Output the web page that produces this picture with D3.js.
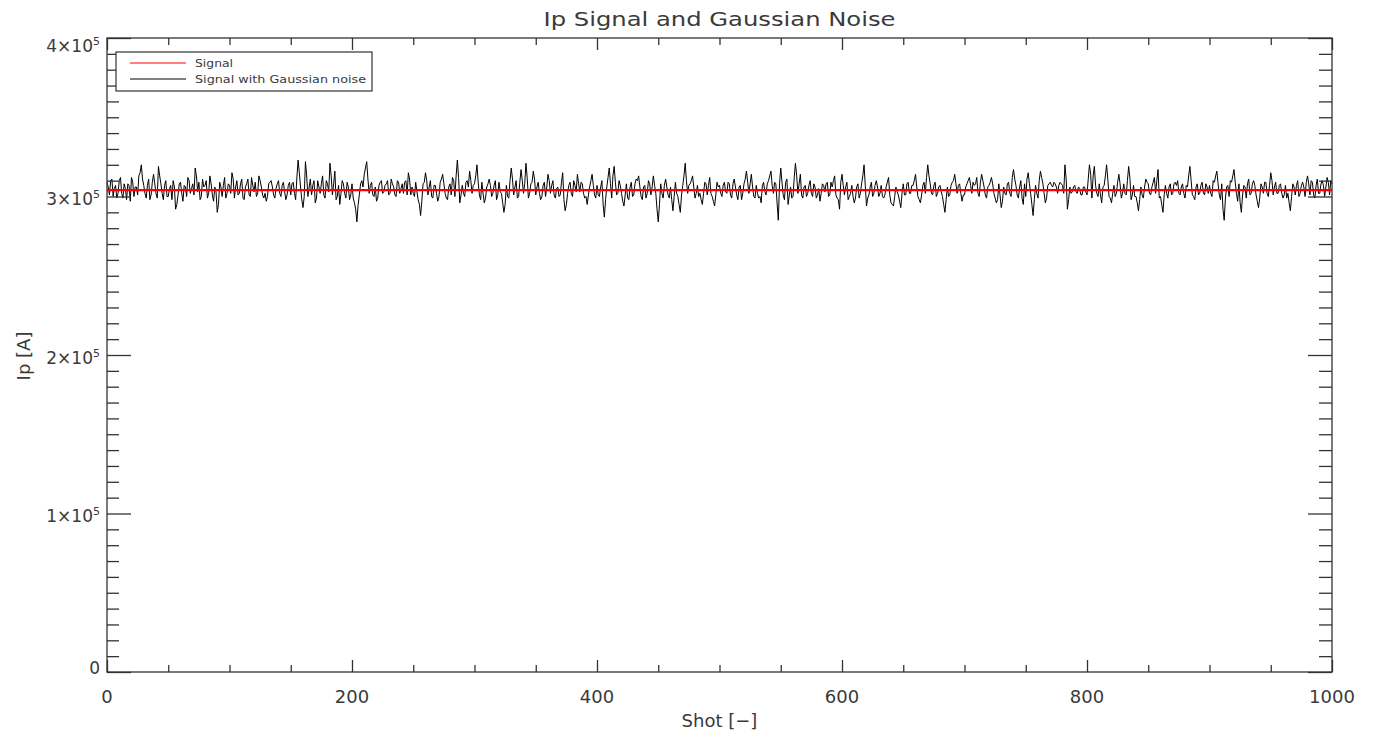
<!DOCTYPE html>
<html><head><meta charset="utf-8">
<script src="https://cdn.jsdelivr.net/npm/d3@7"></script>
<style>body{margin:0;background:#fff}text{font-family:"DejaVu Sans",sans-serif;fill:#3a3a3a}</style>
</head><body><svg id="c" width="1376" height="736"></svg>
<script>
// ---- data ----
const title = "Ip Signal and Gaussian Noise";
const xLabel = "Shot [\u2212]";
const yLabel = "Ip [A]";
const legendLabels = ["Signal", "Signal with Gaussian noise"];
const signalKA = 304;            // constant Ip signal, kA
// noise (kA) at even shots 0,2,...,1000
const noiseEvenKA = [
 5,-3,7,1,-5,6,-2,4,-6,3,8,-4,2,9,16,3,-5,7,-3,10,-2,15,4,-6,6,
 -4,3,6,-12,-3,5,-7,2,8,-2,4,14,-1,-6,7,3,-5,9,-3,2,-14,5,-4,8,-2,
 3,11,-5,6,-2,7,-6,4,-3,8,-1,-4,9,2,-5,-7,4,6,-3,1,6,-4,5,-6,3,
 -3,5,-6,19,2,-11,18,-4,7,3,-8,6,-2,9,-5,4,17,-3,12,-4,-9,6,-2,5,-6,
 4,-8,-20,-3,6,10,18,-2,5,-4,-7,3,6,-1,4,-3,7,2,-4,5,1,-2,6,11,-3,
 -2,5,-6,-16,4,11,-3,6,-5,3,-7,5,10,-2,-6,4,8,-4,19,-8,3,-4,6,12,-2,
 4,16,-3,5,-8,2,7,-4,3,-6,5,-2,-14,3,-5,14,-3,6,-4,13,-2,17,-5,4,12,
 -3,5,-6,3,-4,10,-2,6,-5,2,-3,11,-13,-2,5,-4,3,10,-1,4,-5,-9,2,10,-3,
 3,-4,6,-17,2,14,-5,15,-3,6,-2,-10,4,-6,5,-3,7,9,-4,2,-5,6,-3,9,-2,
 -20,4,-5,7,-3,2,-13,5,-4,-14,3,17,-2,4,9,-5,3,-2,-9,5,-3,8,-4,-10,5,
 3,-4,5,-2,4,-5,7,-3,2,-6,4,12,-2,10,-4,3,-5,-8,5,-3,6,12,-2,4,-19,
 14,-3,5,-9,2,-4,17,-2,10,-5,3,-2,6,-4,2,-3,-7,4,-1,5,-3,2,9,-5,-12,
 10,-3,5,-4,3,-8,2,-5,4,16,-10,-3,5,-2,6,-4,3,-5,2,8,-8,-10,2,-3,-11,
 4,-3,5,-2,3,10,-4,-8,3,-2,16,4,-3,5,-2,3,-4,-14,2,-3,5,10,-2,4,-7,
 -3,4,8,-2,3,8,-4,10,2,-5,3,8,-2,-8,4,-11,2,-3,5,-4,13,3,-5,6,-9,
 -4,11,-2,-16,3,-5,12,4,-8,3,5,2,4,-2,5,3,16,-12,2,-1,3,-2,1,-3,2,
 -3,16,-5,15,-2,4,-8,3,16,-4,-8,3,-2,10,-5,4,-3,15,-6,3,-4,-13,2,-5,7,
 4,-3,5,-2,13,-4,-14,3,-5,4,-2,5,6,-3,4,-5,2,15,-3,-6,4,-2,5,-3,2,
 3,-4,5,12,-3,4,-19,2,-4,5,13,-2,4,-14,3,-5,7,-2,6,-3,-11,4,-2,5,-4,
 11,-3,5,-2,4,-5,3,-2,-13,4,-3,6,-2,5,-4,9,-3,5,-5,7,-2,6,-4,8,-3,4
];
// noise (kA) at odd shots 1,3,...,999
const noiseOddKA = [
 2,6,-4,3,-2,8,-5,1,4,-7,5,2,-3,11,7,-2,3,-6,5,4,-5,9,-2,3,-4,
 1,-6,2,-9,4,-2,3,-4,6,1,-3,9,5,-4,2,6,-2,4,-7,-1,-9,2,3,-5,4,
 -2,7,2,-3,4,-5,2,7,-4,3,5,-2,6,-3,-2,-4,5,2,-5,4,-2,3,-1,-3,5,
 4,-2,8,11,-6,-4,9,2,-3,6,-5,2,4,-3,6,-1,9,4,-6,3,-2,4,-5,2,-3,
 -5,-12,-9,4,2,14,7,3,-3,2,-5,5,-2,3,6,-2,4,-3,6,-2,4,5,-3,7,2,
 -4,-1,-9,-7,5,6,2,-4,3,-2,-4,7,4,-5,2,-3,6,9,8,-3,-2,5,2,6,3,
 9,5,-6,-2,-5,4,3,-2,6,-3,-1,-8,-9,-4,6,7,2,-5,5,6,4,8,-2,5,7,
 2,-2,-4,5,2,6,3,-3,1,-4,5,-6,-9,3,-2,6,-1,4,5,-2,-4,-3,6,3,-5,
 -3,2,-9,-6,8,4,9,5,-2,3,-7,-3,-5,2,-4,4,6,2,-6,3,-2,4,2,3,-12,
 -9,-2,3,2,-5,-6,-4,-2,-9,-3,9,6,3,6,2,-2,-4,-6,-2,4,3,-2,-7,-3,2,
 -2,3,-1,5,-3,4,2,-6,3,-2,7,5,4,2,-5,-2,-4,3,-1,4,9,3,5,-8,4,
 5,-6,7,-3,-5,8,9,4,-3,2,-4,3,-2,4,-5,1,-2,3,4,-4,5,6,-3,-6,5,
 3,2,-6,-2,-4,-5,4,-2,9,3,-5,2,-4,3,2,-2,-4,-3,5,-3,-9,-4,-1,-7,-2,
 -3,4,-2,3,6,2,-6,-3,5,8,9,-2,3,-4,2,-1,-9,-6,-4,3,6,4,3,-2,-3,
 2,6,3,5,4,-2,5,6,-3,2,5,4,-5,-6,-3,-7,-2,4,-2,8,7,-3,2,-5,4,
 7,4,-9,-6,-2,6,8,-2,-5,4,3,5,2,3,4,-2,7,-6,-2,2,-1,2,-3,2,-1,
 7,10,9,3,-4,-3,2,9,7,-5,-2,-4,5,4,-2,-2,6,8,-3,-4,-8,-6,-3,2,5,
 -2,2,8,6,-5,-9,-3,-2,2,-3,4,3,-2,2,-2,3,9,6,-4,2,-3,3,-2,4,-2,
 -2,6,9,4,-6,-12,-5,3,6,9,5,-7,-8,-3,2,4,-3,4,3,-7,-5,2,5,-2,3,
 6,2,-2,3,-2,-3,-5,-8,-4,2,3,-4,3,2,5,4,6,-3,3,-2,4,3,2,5,6
];
const xMajor = [0,200,400,600,800,1000];
const xMinor = [50,100,150,250,300,350,450,500,550,650,700,750,850,900,950];
const yMajor = [0,1e5,2e5,3e5,4e5];
const yLabelBase = ["0","1\u00d710","2\u00d710","3\u00d710","4\u00d710"];
const yLabelExp  = ["","5","5","5","5"];

// ---- layout ----
const svg = d3.select("#c");
const L = 107, R = 1332, T = 38, B = 672;
const x = d3.scaleLinear().domain([0,1000]).range([L,R]);
const y = d3.scaleLinear().domain([0,4e5]).range([B,T]);
const yMinor = d3.range(0, 400001, 1e4).filter(v => v % 1e5 !== 0);

const noisy = d3.range(0, 1001).map(s => ({
  shot: s,
  ip: (signalKA + (s % 2 ? noiseOddKA[(s-1)/2] : noiseEvenKA[s/2])) * 1000
}));
const signal = [{shot:0, ip: signalKA*1000},{shot:1000, ip: signalKA*1000}];

// lines
const line = d3.line().x(d => x(d.shot)).y(d => y(d.ip));
svg.append("path").datum(noisy).attr("d", line)
  .attr("fill","none").attr("stroke","#000").attr("stroke-width",1);
svg.append("path").datum(signal).attr("d", line)
  .attr("fill","none").attr("stroke","#ff0000").attr("stroke-width",2.2);

// frame
svg.append("rect").attr("x",L).attr("y",T).attr("width",R-L).attr("height",B-T)
  .attr("fill","none").attr("stroke","#333").attr("stroke-width",1.3);

function ticks(axisGen, tr, vals, size){
  const g = svg.append("g").attr("transform", tr)
    .call(axisGen.tickValues(vals).tickSize(size).tickFormat(""));
  g.select(".domain").remove();
  g.selectAll("line").attr("stroke","#333").attr("stroke-width",1.3);
}
ticks(d3.axisBottom(x), `translate(0,${B})`, xMajor, -12);
ticks(d3.axisBottom(x), `translate(0,${B})`, xMinor, -7);
ticks(d3.axisTop(x), `translate(0,${T})`, xMajor, -12);
ticks(d3.axisTop(x), `translate(0,${T})`, xMinor, -7);
ticks(d3.axisLeft(y), `translate(${L},0)`, yMajor, -24);
ticks(d3.axisLeft(y), `translate(${L},0)`, yMinor, -12);
ticks(d3.axisRight(y), `translate(${R},0)`, yMajor, -24);
ticks(d3.axisRight(y), `translate(${R},0)`, yMinor, -13);

// x tick labels
svg.selectAll(".xl").data(xMajor).join("text")
  .attr("x", d => x(d)).attr("y", B + 31)
  .attr("text-anchor","middle").attr("font-size",18).text(d => d);

// y tick labels
yMajor.forEach((v,i) => {
  let cy = y(v) + 2;
  if (i === yMajor.length-1) cy = y(v) + 7;
  if (i === 0) cy = y(v) - 5;
  const t = svg.append("text").attr("x", 100).attr("y", cy + 6.5)
    .attr("text-anchor","end").attr("font-size",17);
  t.append("tspan").text(yLabelBase[i]);
  if (yLabelExp[i]) t.append("tspan").attr("dy",-7).attr("font-size",11).text(yLabelExp[i]);
});

// titles
svg.append("text").attr("x",(L+R)/2).attr("y",26).attr("text-anchor","middle")
  .attr("font-size",20).attr("textLength",352).attr("lengthAdjust","spacingAndGlyphs").text(title);
svg.append("text").attr("x",(L+R)/2).attr("y",727).attr("text-anchor","middle")
  .attr("font-size",18).text(xLabel);
svg.append("text").attr("transform","translate(30,356) rotate(-90)").attr("text-anchor","middle")
  .attr("font-size",18).text(yLabel);

// legend
svg.append("rect").attr("x",116).attr("y",52).attr("width",256).attr("height",39)
  .attr("fill","#fff").attr("stroke","#333").attr("stroke-width",1.2);
const legColors = ["#ff0000","#000"];
legendLabels.forEach((lab,i) => {
  const ly = 63 + i*16;
  svg.append("line").attr("x1",130).attr("x2",186).attr("y1",ly).attr("y2",ly)
    .attr("stroke",legColors[i]).attr("stroke-width",1.2);
  svg.append("text").attr("x",195).attr("y",ly+4).attr("font-size",11)
    .attr("textLength", i ? 171 : 38).attr("lengthAdjust","spacingAndGlyphs").text(lab);
});
</script></body></html>
